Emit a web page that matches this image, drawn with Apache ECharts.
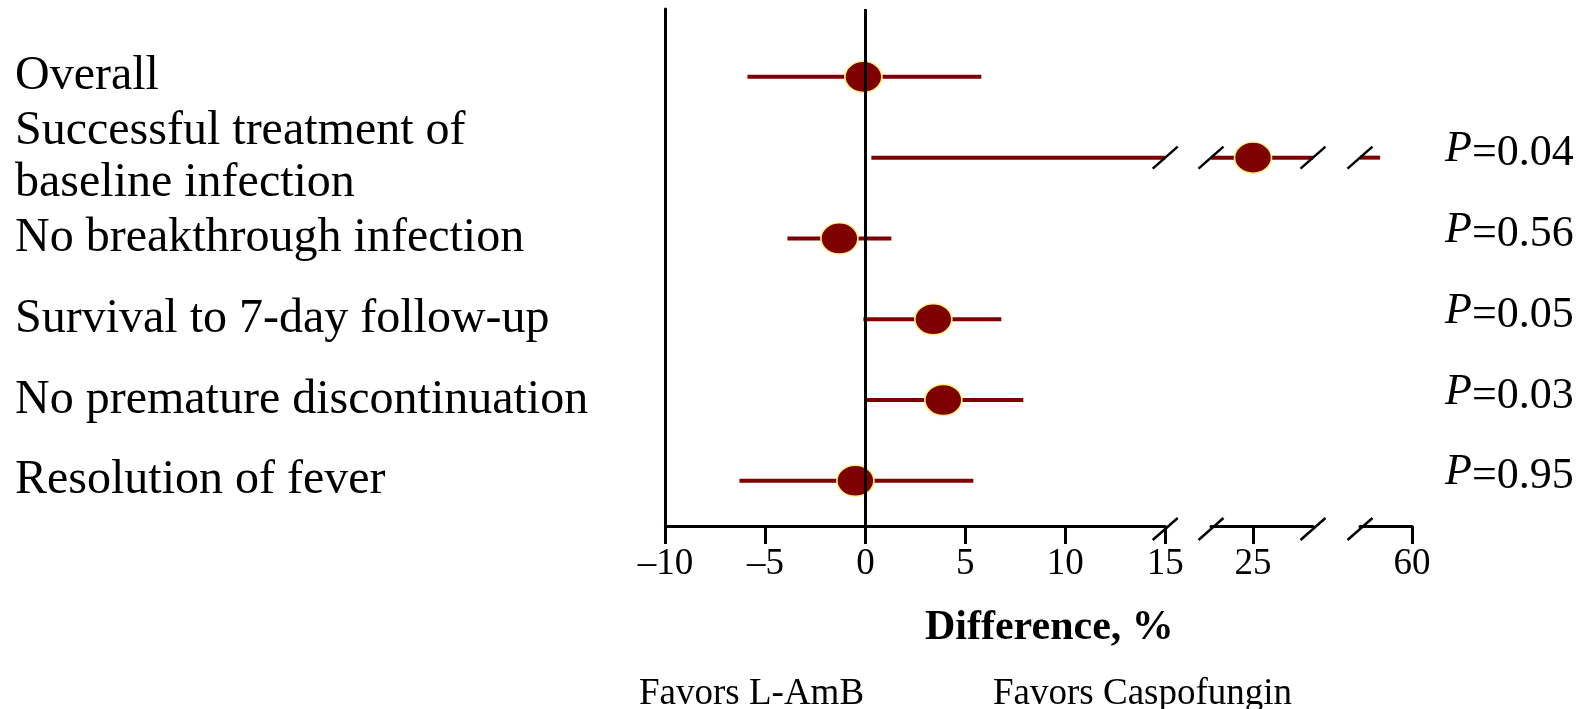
<!DOCTYPE html>
<html><head><meta charset="utf-8">
<script src="https://cdn.jsdelivr.net/npm/echarts@6/dist/echarts.min.js"></script>
<style>html,body{margin:0;padding:0;background:#fff}#c{width:1585px;height:709px}</style>
</head><body><div id="c"></div>
<script>
// ---- data ----
const categories = ['Overall', 'Successful treatment of\nbaseline infection', 'No breakthrough infection',
  'Survival to 7-day follow-up', 'No premature discontinuation', 'Resolution of fever'];
const estimate = [-0.1, 25.0, -1.3, 3.4, 3.9, -0.5];
const lower = [-5.9, 0.3, -3.9, -0.1, 0.0, -6.3];
const upper = [5.8, 50.8, 1.3, 6.8, 7.9, 5.4];
const pValues = ['', '0.04', '0.56', '0.05', '0.03', '0.95'];
const ticksA = [-10, -5, 0, 5, 10, 15];
const ticksB = [25];
const ticksC = [60];
const segMin = [-10, 22.9, 45];
const segMax = [15, 28, 60];
const brokenRow = 1;
const breaksA = [15];
const breaksB = [22.9, 28];
const breaksC = [45];

// ---- chart ----
const FONT = '"Liberation Serif", "Times New Roman", serif';
const RED = '#7f0000';
const ellipse = 'path://M0,50a50,50 0 1,0 100,0a50,50 0 1,0 -100,0z';
const gridTop = 9, gridH = 517;
const grids = [
  {left: 665.5, top: gridTop, width: 499.7, height: gridH},
  {left: 1211, top: gridTop, width: 102, height: gridH},
  {left: 1360, top: gridTop, width: 52, height: gridH}
];
const tickSets = [ticksA, ticksB, ticksC];
const breakSets = [breaksA, breaksB, breaksC];
const rowIdx = categories.map((c, r) => r);

const xAxes = grids.map((g, i) => ({
  type: 'value', gridIndex: i, min: segMin[i], max: segMax[i],
  axisLine: {show: true, onZero: false, lineStyle: {color: '#000', width: 3}},
  axisTick: {show: true, customValues: tickSets[i], length: 18, lineStyle: {color: '#000', width: 3}},
  axisLabel: {show: true, customValues: tickSets[i], margin: 20, fontSize: 37, fontFamily: FONT, color: '#000',
    showMinLabel: true, showMaxLabel: true,
    formatter: v => String(v).replace('-', '\u2013')},
  splitLine: {show: false}
}));

const yCommon = {type: 'value', inverse: true, min: -0.84, max: 5.56, splitLine: {show: false}};
const yAxes = [
  Object.assign({}, yCommon, {gridIndex: 0,
    axisLine: {show: true, onZero: false, lineStyle: {color: '#000', width: 3}},
    axisTick: {show: false, customValues: rowIdx},
    axisLabel: {show: true, customValues: rowIdx, align: 'left', margin: 650.5,
      showMinLabel: true, showMaxLabel: true, hideOverlap: false,
      fontSize: 48, lineHeight: 52, fontFamily: FONT, color: '#000', formatter: v => categories[v] || ''}}),
  Object.assign({}, yCommon, {gridIndex: 1, show: false}),
  Object.assign({}, yCommon, {gridIndex: 2, show: false}),
  Object.assign({}, yCommon, {gridIndex: 2, position: 'right',
    axisLine: {show: false}, axisTick: {show: false, customValues: rowIdx},
    axisLabel: {show: true, customValues: rowIdx, align: 'left', margin: 33,
      showMinLabel: true, showMaxLabel: true, hideOverlap: false,
      fontSize: 44, fontFamily: FONT, color: '#000', padding: [0, 0, 8, 0],
      formatter: v => pValues[v] ? '{i|P}=' + pValues[v] : '',
      rich: {i: {fontStyle: 'italic', fontSize: 44, fontFamily: FONT, color: '#000', padding: [0, 0, 8, 0]}}}})
];

const series = [];
grids.forEach((g, i) => {
  const lo = segMin[i], hi = segMax[i];
  // CI lines
  series.push({
    type: 'custom', xAxisIndex: i, yAxisIndex: i, silent: true, z: 2,
    encode: {x: [0, 2], y: 1},
    data: categories.map((c, r) => [lower[r], r, upper[r]]),
    renderItem: (params, api) => {
      const a = Math.max(api.value(0), lo), b = Math.min(api.value(2), hi);
      if (a >= b) return null;
      const p1 = api.coord([a, api.value(1)]), p2 = api.coord([b, api.value(1)]);
      return {type: 'line', shape: {x1: p1[0], y1: p1[1], x2: p2[0], y2: p2[1]},
        style: {stroke: RED, lineWidth: 4}};
    },
    markLine: i === 0 ? {symbol: 'none', silent: true, label: {show: false}, animation: false,
      lineStyle: {color: '#000', width: 3, type: 'solid'}, data: [{xAxis: 0}]} : undefined
  });
  // point estimates
  series.push({
    type: 'scatter', xAxisIndex: i, yAxisIndex: i, silent: true, z: 3,
    symbol: ellipse, symbolSize: [37, 31],
    itemStyle: {color: RED, borderColor: '#fff27a', borderWidth: 1.5, opacity: 1},
    data: categories.map((c, r) => [estimate[r], r]).filter(d => d[0] >= lo && d[0] <= hi)
  });
  // axis break marks
  series.push({
    type: 'custom', xAxisIndex: i, yAxisIndex: i, silent: true, z: 4,
    data: breakSets[i].map(v => [v, brokenRow]),
    renderItem: (params, api) => {
      const p = api.coord([api.value(0), api.value(1)]);
      const axisY = params.coordSys.y + params.coordSys.height + 3;
      const mk = (x, y) => ({type: 'line', shape: {x1: x - 12.5, y1: y + 11, x2: x + 12.5, y2: y - 11},
        style: {stroke: '#000', lineWidth: 2.5}});
      return {type: 'group', children: [mk(p[0], p[1]), mk(p[0], axisY)]};
    }
  });
});

const chart = echarts.init(document.getElementById('c'), null, {renderer: 'canvas'});
chart.setOption({
  animation: false,
  backgroundColor: '#fff',
  grid: grids,
  xAxis: xAxes,
  yAxis: yAxes,
  series: series,
  graphic: [
    {type: 'text', left: 925, top: 607, style: {text: 'Difference, %', fontSize: 42, fontWeight: 'bold', fontFamily: FONT, fill: '#000'}},
    {type: 'text', left: 639, top: 676, style: {text: 'Favors L-AmB', fontSize: 37, fontFamily: FONT, fill: '#000'}},
    {type: 'text', left: 993, top: 676, style: {text: 'Favors Caspofungin', fontSize: 37, fontFamily: FONT, fill: '#000'}}
  ]
});
</script></body></html>
